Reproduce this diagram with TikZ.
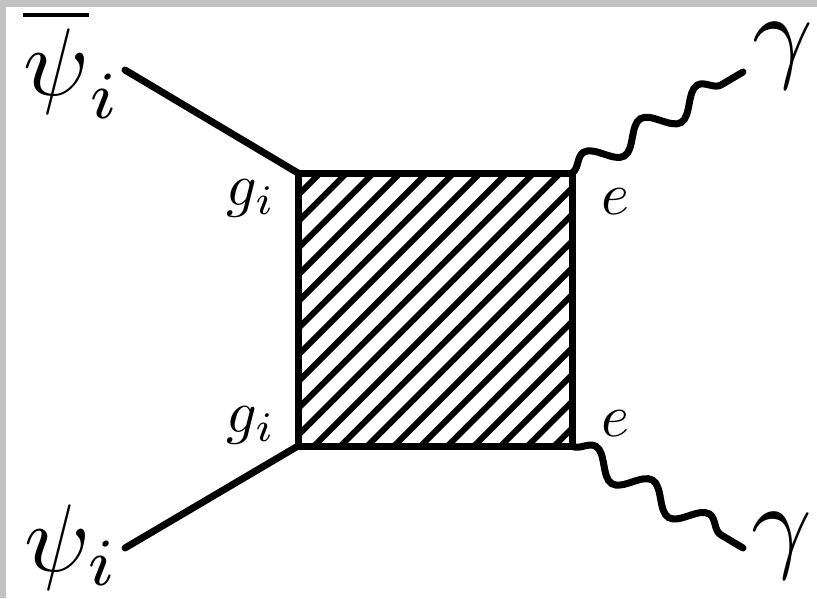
\documentclass[tikz,border=0pt]{standalone}
\usepackage{graphicx}
\usepackage{amsmath}
\usetikzlibrary{decorations.pathmorphing}

\newcommand{\biglab}[1]{\scalebox{9.6}{$#1$}}
\newcommand{\gamlab}[1]{\scalebox{10.6}{$#1$}}
\newcommand{\smalllab}[1]{\scalebox{6}{$#1$}}

\tikzset{
  fermion/.style={line width=7pt},
  photon/.style={line width=7pt, line cap=round, decorate,
    decoration={snake, segment length=66pt, amplitude=12pt}},
  blob/.style={line width=7pt},
  hatch/.style={line width=6pt},
  lab/.style={inner sep=0pt}
}

\begin{document}
\begin{tikzpicture}[x=1pt,y=-1pt]
        \useasboundingbox (0,0) rectangle (817,598);
        %grey frame
        \fill[black!24] (0,0) rectangle (817,7);
        \fill[black!24] (0,0) rectangle (6,598);
        %corners of the blob
        \coordinate (vtl) at (298,173);
        \coordinate (vtr) at (572,173);
        \coordinate (vbr) at (572,446);
        \coordinate (vbl) at (298,446);
        %hatching
        \begin{scope}
            \clip (vtl) rectangle (vbr);
            \foreach \k in {-1,...,21}
                \draw[hatch] ({493+26.7*\k-500},500) -- ({493+26.7*\k-120},120);
        \end{scope}
        \draw[blob] (vtl) -- (vtr) -- (vbr) -- (vbl) -- cycle;
        %fermions
        \node[lab] (psibar) at (72,64) {\biglab{\overline{\psi}_i}};
        \node[lab] (psi) at (72,547) {\biglab{\psi_i}};
        \coordinate (fin) at (125,70);
        \coordinate (fout) at (125,548);
        \draw[fermion, line cap=round] (fin) -- (vtl);
        \draw[fermion, line cap=round] (fout) -- (vbl);
        %photons
        \node[lab] (gamtop) at (783,56) {\gamlab{\gamma}};
        \node[lab] (gambot) at (782,546) {\gamlab{\gamma}};
        \coordinate (ptop) at (743,72);
        \coordinate (pbot) at (743,548);
        \draw[photon] (vtr) -- (ptop);
        \draw[photon] (vbr) -- (pbot);
        %couplings
        \node[lab] (gtop) at (251,198) {\smalllab{g_i}};
        \node[lab] (gbot) at (251,425) {\smalllab{g_i}};
        \node[lab] (etop) at (615,202) {\smalllab{e}};
        \node[lab] (ebot) at (615,424) {\smalllab{e}};
\end{tikzpicture}
\end{document}
